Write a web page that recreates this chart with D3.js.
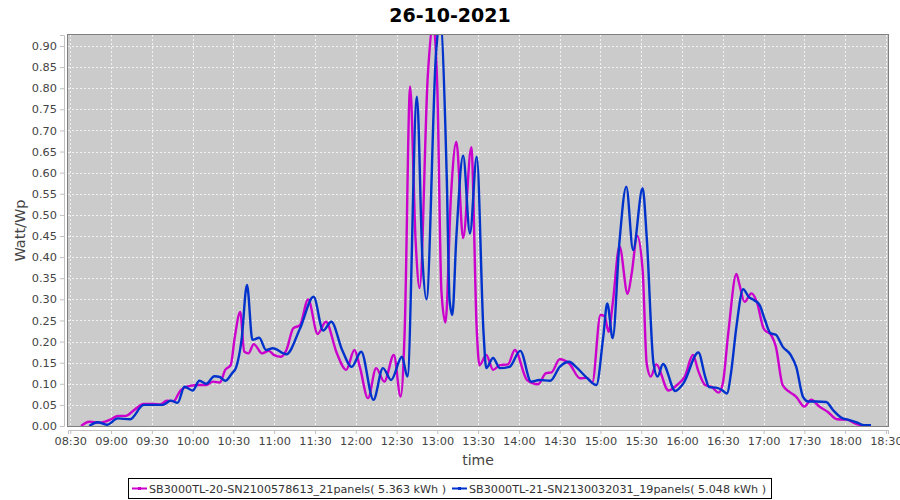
<!DOCTYPE html>
<html>
<head>
<meta charset="utf-8">
<script src="https://cdn.jsdelivr.net/npm/d3@7"></script>
<style>
  body { margin: 0; background: #fff; }
  text { font-family: "DejaVu Sans", sans-serif; }
</style>
</head>
<body>
<div id="chart"></div>
<script>
// series 1 (magenta) - SB3000TL-20
var magentaTimes = ["08:38","08:44","08:52","09:00","09:05","09:11","09:17","09:24","09:31","09:36","09:41","09:46","09:51","09:58","10:05","10:10","10:15","10:20","10:24","10:28","10:31","10:35","10:38","10:41","10:45","10:51","10:56","11:00","11:05","11:09","11:14","11:19","11:25","11:32","11:38","11:46","11:53","11:59","12:03","12:09","12:15","12:21","12:28","12:33","12:36","12:40","12:44","12:47","12:53","12:57","13:00","13:03","13:06","13:10","13:14","13:19","13:25","13:29","13:31","13:36","13:41","13:46","13:52","13:57","14:06","14:14","14:20","14:24","14:30","14:37","14:45","14:50","14:54","15:00","15:03","15:06","15:09","15:14","15:20","15:23","15:27","15:31","15:34","15:37","15:41","15:50","15:57","16:02","16:08","16:12","16:17","16:22","16:27","16:30","16:34","16:40","16:42","16:46","16:51","16:55","17:00","17:06","17:09","17:14","17:19","17:24","17:30","17:35","17:41","17:47","17:54","18:01","18:08","18:14"];
var magentaValues = [0.000,0.010,0.008,0.016,0.024,0.024,0.038,0.052,0.052,0.051,0.060,0.059,0.084,0.095,0.097,0.097,0.105,0.103,0.133,0.144,0.210,0.270,0.176,0.172,0.194,0.172,0.178,0.168,0.164,0.180,0.231,0.239,0.300,0.218,0.247,0.173,0.133,0.180,0.140,0.066,0.137,0.105,0.168,0.070,0.227,0.804,0.440,0.327,0.830,0.950,0.800,0.320,0.245,0.543,0.673,0.445,0.660,0.227,0.144,0.168,0.133,0.144,0.146,0.180,0.109,0.099,0.125,0.127,0.158,0.148,0.113,0.114,0.103,0.263,0.260,0.223,0.290,0.425,0.313,0.362,0.450,0.370,0.148,0.117,0.146,0.084,0.099,0.117,0.168,0.130,0.097,0.092,0.079,0.101,0.220,0.360,0.338,0.294,0.314,0.294,0.231,0.213,0.188,0.097,0.081,0.069,0.046,0.062,0.046,0.034,0.016,0.015,0.005,0.000];

// series 2 (blue) - SB3000TL-21
var blueTimes = ["08:44","08:50","08:57","09:05","09:14","09:24","09:38","09:44","09:49","09:54","10:00","10:05","10:10","10:16","10:20","10:24","10:29","10:32","10:36","10:40","10:44","10:49","10:54","10:59","11:09","11:19","11:29","11:36","11:42","11:50","11:57","12:04","12:13","12:20","12:26","12:34","12:38","12:45","12:49","12:52","12:59","13:02","13:07","13:09","13:11","13:14","13:19","13:24","13:29","13:34","13:36","13:41","13:46","13:53","14:01","14:09","14:15","14:23","14:30","14:37","14:42","14:50","14:57","15:02","15:05","15:09","15:14","15:19","15:24","15:31","15:34","15:39","15:42","15:46","15:55","16:01","16:12","16:17","16:20","16:25","16:29","16:33","16:36","16:40","16:45","16:49","16:53","16:57","17:01","17:05","17:09","17:14","17:20","17:24","17:29","17:33","17:39","17:46","17:51","17:57","18:03","18:09","18:14","18:19"];
var blueValues = [0.000,0.009,0.003,0.018,0.016,0.050,0.050,0.060,0.055,0.093,0.084,0.107,0.100,0.118,0.116,0.107,0.125,0.139,0.204,0.334,0.204,0.209,0.180,0.184,0.170,0.231,0.306,0.226,0.247,0.180,0.140,0.176,0.062,0.137,0.109,0.164,0.117,0.780,0.400,0.300,0.880,0.960,0.580,0.298,0.263,0.448,0.640,0.456,0.638,0.220,0.137,0.161,0.137,0.140,0.178,0.105,0.109,0.107,0.140,0.152,0.140,0.114,0.097,0.210,0.290,0.208,0.437,0.567,0.417,0.563,0.448,0.148,0.117,0.147,0.083,0.101,0.174,0.117,0.092,0.091,0.086,0.077,0.125,0.235,0.324,0.306,0.298,0.287,0.251,0.220,0.216,0.188,0.168,0.140,0.069,0.058,0.058,0.057,0.038,0.020,0.014,0.008,0.002,0.002];

var seriesNames = ["SB3000TL-20-SN2100578613_21panels( 5.363 kWh )", "SB3000TL-21-SN2130032031_19panels( 5.048 kWh )"];
var seriesColors = ["#cc00cc", "#0033cc"];
var yTicks = d3.range(0, 0.901, 0.05);

var W = 900, H = 500;
var plot = { left: 68, right: 888, top: 35, bottom: 426 };

var parse = d3.timeParse("%H:%M:%S");
var x = d3.scaleTime()
    .domain([parse("08:28:20"), parse("18:31:30")])
    .range([plot.left, plot.right]);
var y = d3.scaleLinear().domain([0, 0.926]).range([plot.bottom, plot.top]);

var svg = d3.select("#chart").append("svg")
    .attr("width", W)
    .attr("height", H);

// plot background
svg.append("rect")
    .attr("x", plot.left).attr("y", plot.top)
    .attr("width", plot.right - plot.left).attr("height", plot.bottom - plot.top)
    .attr("fill", "#cbcbcb");

var xTickVals = d3.timeMinute.every(30).range(parse("08:30:00"), parse("18:30:01"));

// grid
svg.append("g").selectAll("line").data(yTicks).enter().append("line")
    .attr("x1", plot.left).attr("x2", plot.right)
    .attr("y1", function(d) { return Math.round(y(d)) + 0.5; })
    .attr("y2", function(d) { return Math.round(y(d)) + 0.5; })
    .attr("stroke", "#f2f2f2").attr("stroke-dasharray", "2,2");
svg.append("g").selectAll("line").data(xTickVals).enter().append("line")
    .attr("y1", plot.top).attr("y2", plot.bottom)
    .attr("x1", function(d) { return Math.round(x(d)) + 0.5; })
    .attr("x2", function(d) { return Math.round(x(d)) + 0.5; })
    .attr("stroke", "#f2f2f2").attr("stroke-dasharray", "2,2");

// lines
svg.append("clipPath").attr("id", "clip").append("rect")
    .attr("x", plot.left).attr("y", plot.top)
    .attr("width", plot.right - plot.left).attr("height", plot.bottom - plot.top);

var line = d3.line()
    .x(function(d) { return x(d.t); })
    .y(function(d) { return y(d.v); })
    .curve(d3.curveMonotoneX);

function toPoints(times, values) {
  return times.map(function(t, i) { return { t: parse(t + ":00"), v: values[i] }; });
}
var series = [toPoints(magentaTimes, magentaValues), toPoints(blueTimes, blueValues)];

var lines = svg.append("g").attr("clip-path", "url(#clip)");
series.forEach(function(s, i) {
  lines.append("path")
      .attr("d", line(s))
      .attr("fill", "none")
      .attr("stroke", seriesColors[i])
      .attr("stroke-width", 2.4)
      .attr("stroke-linejoin", "round");
});

// plot outline
svg.append("rect")
    .attr("x", plot.left - 0.5).attr("y", plot.top - 0.5)
    .attr("width", plot.right - plot.left + 1).attr("height", plot.bottom - plot.top + 1)
    .attr("fill", "none").attr("stroke", "#808080");

// axes
var yAxis = d3.axisLeft(y).tickValues(yTicks).tickFormat(d3.format(".2f")).tickSize(4).tickPadding(3);
var gy = svg.append("g").attr("transform", "translate(" + (plot.left - 4) + ",0)").call(yAxis);
var xAxis = d3.axisBottom(x).tickValues(xTickVals).tickFormat(d3.timeFormat("%H:%M")).tickSize(4).tickPadding(3);
var gx = svg.append("g").attr("transform", "translate(0," + (plot.bottom + 4) + ")").call(xAxis);
[gx, gy].forEach(function(g) {
  g.select(".domain").attr("stroke", "#c0c0c0");
  g.selectAll(".tick line").attr("stroke", "#c0c0c0");
  g.selectAll(".tick text").attr("fill", "#444").style("font-size", "11.3px").style("font-family", "DejaVu Sans");
});

// title and axis labels
svg.append("text")
    .attr("x", 450).attr("y", 22)
    .attr("text-anchor", "middle")
    .style("font-size", "19px").style("font-weight", "bold")
    .attr("fill", "#000")
    .text("26-10-2021");
svg.append("text")
    .attr("x", (plot.left + plot.right) / 2).attr("y", 465)
    .attr("text-anchor", "middle")
    .style("font-size", "14px")
    .attr("fill", "#444")
    .text("time");
svg.append("text")
    .attr("transform", "translate(25," + (plot.top + plot.bottom) / 2 + ") rotate(-90)")
    .attr("text-anchor", "middle")
    .style("font-size", "14.5px")
    .attr("fill", "#444")
    .text("Watt/Wp");

// legend
var legend = svg.append("g");
legend.append("rect")
    .attr("x", 128.5).attr("y", 478.5).attr("width", 643).attr("height", 20)
    .attr("fill", "#fff").attr("stroke", "#000");
var legendX = [132, 452];
seriesNames.forEach(function(name, i) {
  var lx = legendX[i];
  legend.append("line")
      .attr("x1", lx).attr("x2", lx + 15).attr("y1", 488.5).attr("y2", 488.5)
      .attr("stroke", seriesColors[i]).attr("stroke-width", 2);
  legend.append("rect")
      .attr("x", lx + 6).attr("y", 487).attr("width", 3).attr("height", 3)
      .attr("fill", seriesColors[i]);
  legend.append("text")
      .attr("x", lx + 17).attr("y", 492.5)
      .attr("textLength", 297).attr("lengthAdjust", "spacingAndGlyphs")
      .style("font-size", "11px")
      .attr("fill", "#333")
      .text(name);
});
</script>
</body>
</html>
